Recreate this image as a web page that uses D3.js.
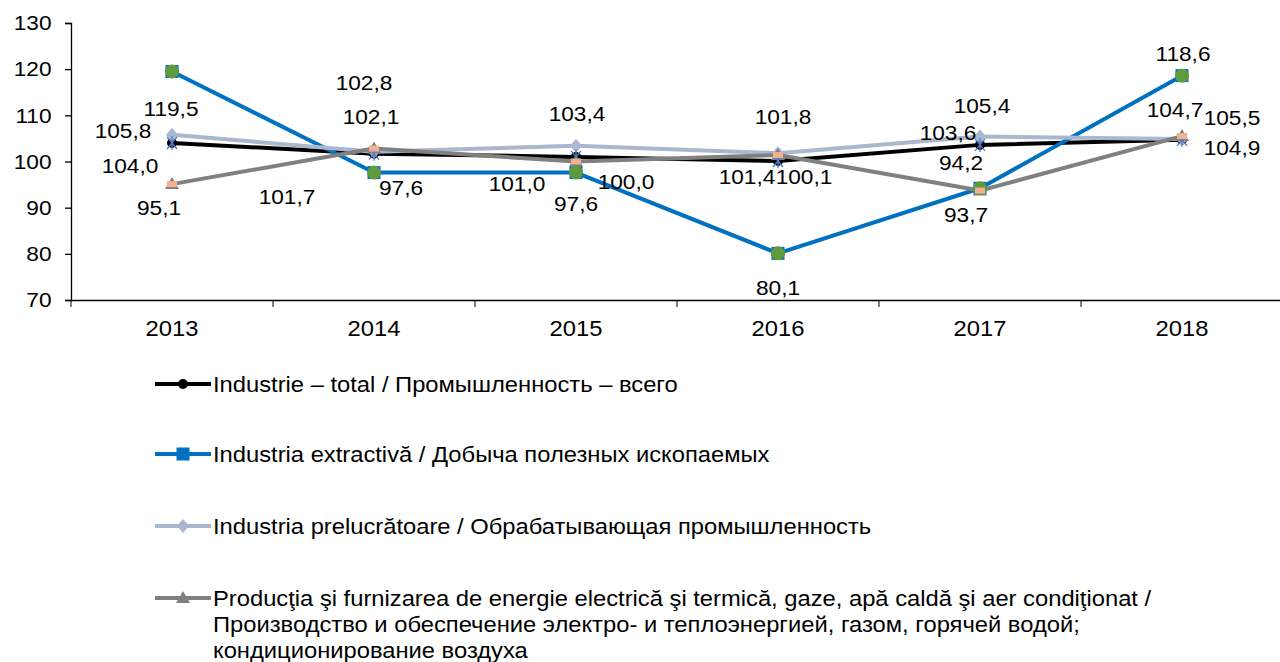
<!DOCTYPE html>
<html>
<head>
<meta charset="utf-8">
<script src="https://cdn.jsdelivr.net/npm/d3@7"></script>
<style>
  body { margin: 0; background: #fff; }
  svg text { font-family: "Liberation Sans", Arial, sans-serif; fill: #000; }
</style>
</head>
<body>
<div id="chart"></div>
<script>
// data
const years = ["2013", "2014", "2015", "2016", "2017", "2018"];
const total = [104.0, 101.7, 101.0, 100.1, 103.6, 104.7];
const extractive = [119.5, 97.6, 97.6, 80.1, 94.2, 118.6];
const manufacturing = [105.8, 102.1, 103.4, 101.8, 105.4, 104.9];
const energy = [95.1, 102.8, 100.0, 101.4, 93.7, 105.5];
const yTicks = [70, 80, 90, 100, 110, 120, 130];
const names = [
  ["Industrie – total / Промышленность – всего"],
  ["Industria extractivă / Добыча полезных ископаемых"],
  ["Industria prelucrătoare / Обрабатывающая промышленность"],
  ["Producţia şi furnizarea de energie electrică şi termică, gaze, apă caldă şi aer condiţionat /",
   "Производство и обеспечение электро- и теплоэнергией, газом, горячей водой;",
   "кондиционирование воздуха"]
];

// label offsets (layout only)
const labelOffsets = [
  [[-42, 23], [-87, 43], [-59, 27], [26, 16], [-32, -12], [-7, -30]],
  [[-1, 37], [27, 15], [0, 31], [0, 34], [-19, -25], [1, -22]],
  [[-49, -4], [-3, -35], [1, -32], [5, -36], [2, -31], [50, 9]],
  [[-13, 24], [-10, -66], [50, 20], [-31, 22], [-14, 24], [50, -18]]
];

const width = 1280, height = 662;
const margin = { left: 71, top: 23 };
const plotW = 1212, plotH = 277;
const sx = 1.08; // horizontal stretch of text seen in the reference

const svg = d3.select("#chart").append("svg")
  .attr("width", width).attr("height", height);

const x = d3.scaleBand().domain(years).range([margin.left, margin.left + plotW]);
const y = d3.scaleLinear().domain([70, 130]).range([margin.top + plotH, margin.top]);
const cx = d => x(d) + x.bandwidth() / 2;

// axes
const yAxis = svg.append("g").attr("transform", `translate(${margin.left},0)`)
  .call(d3.axisLeft(y).tickValues(yTicks).tickSize(6).tickPadding(12));
yAxis.selectAll("text").style("font-size", "21px").attr("transform", `scale(${sx},1)`);

const xAxis = svg.append("g").attr("transform", `translate(0,${margin.top + plotH})`)
  .call(d3.axisBottom(x).tickSize(0).tickPadding(20));
xAxis.selectAll("text").style("font-size", "22px").attr("transform", `scale(${sx},1)`);
// category boundary ticks
xAxis.selectAll(".bound").data(d3.range(years.length + 1)).enter().append("line")
  .attr("x1", i => margin.left + i * x.bandwidth())
  .attr("x2", i => margin.left + i * x.bandwidth())
  .attr("y1", 0).attr("y2", 7).attr("stroke", "#000");
svg.selectAll(".domain, .tick line").attr("stroke", "#000").attr("stroke-width", 1.3);

const series = [
  { vals: total, color: "#000000", marker: "circle" },
  { vals: extractive, color: "#0070C0", marker: "square" },
  { vals: manufacturing, color: "#A9B7CF", marker: "diamond" },
  { vals: energy, color: "#808080", marker: "triangle" }
];

const line = d3.line().x((v, i) => cx(years[i])).y(v => y(v));

function drawMarker(g, type, color, px, py) {
  if (type === "circle") {
    g.append("circle").attr("cx", px).attr("cy", py).attr("r", 5).attr("fill", color);
  } else if (type === "square") {
    g.append("rect").attr("x", px - 6.5).attr("y", py - 6.5).attr("width", 13).attr("height", 13).attr("fill", color);
  } else if (type === "diamond") {
    g.append("path").attr("d", `M${px},${py - 7}L${px + 6},${py}L${px},${py + 7}L${px - 6},${py}Z`).attr("fill", color);
  } else if (type === "triangle") {
    g.append("path").attr("d", `M${px},${py - 7}L${px + 7},${py + 5}L${px - 7},${py + 5}Z`).attr("fill", color);
  }
}

function addText(g, tx, ty, str, size, anchor) {
  return g.append("text")
    .attr("transform", `translate(${tx},${ty}) scale(${sx},1)`)
    .attr("text-anchor", anchor).attr("dominant-baseline", "central")
    .style("font-size", size + "px")
    .text(str);
}

const plot = svg.append("g");
series.forEach(s => {
  plot.append("path").datum(s.vals)
    .attr("d", line).attr("fill", "none")
    .attr("stroke", s.color).attr("stroke-width", 4).attr("stroke-linejoin", "round");
});
series.forEach(s => {
  s.vals.forEach((v, i) => drawMarker(plot, s.marker, s.color, cx(years[i]), y(v)));
});

// overlay markers
total.forEach((v, i) => {
  const px = cx(years[i]), py = y(v);
  plot.append("path")
    .attr("d", `M${px - 5},${py - 6}L${px + 5},${py + 6}M${px + 5},${py - 6}L${px - 5},${py + 6}M${px},${py - 7}L${px},${py + 7}`)
    .attr("stroke", "#4F7BC9").attr("stroke-width", 1.3);
});
extractive.forEach((v, i) => {
  plot.append("circle").attr("cx", cx(years[i])).attr("cy", y(v)).attr("r", 7).attr("fill", "#5F9B3C");
});
energy.forEach((v, i) => {
  plot.append("rect").attr("x", cx(years[i]) - 5).attr("y", y(v) - 3).attr("width", 10).attr("height", 6).attr("fill", "#F2B191");
});

// data labels
const fmt = v => v.toFixed(1).replace(".", ",");
series.forEach((s, si) => {
  s.vals.forEach((v, i) => {
    addText(plot, cx(years[i]) + labelOffsets[si][i][0], y(v) + labelOffsets[si][i][1], fmt(v), 21, "middle");
  });
});

// legend
const legendY = [384, 454, 526, 598];
const legend = svg.append("g");
series.forEach((s, i) => {
  const ly = legendY[i];
  legend.append("line").attr("x1", 155).attr("x2", 211).attr("y1", ly).attr("y2", ly)
    .attr("stroke", s.color).attr("stroke-width", 4);
  drawMarker(legend, s.marker, s.color, 183, ly);
  names[i].forEach((t, k) => addText(legend, 213, ly + k * 26, t, 22, "start"));
});
</script>
</body>
</html>
